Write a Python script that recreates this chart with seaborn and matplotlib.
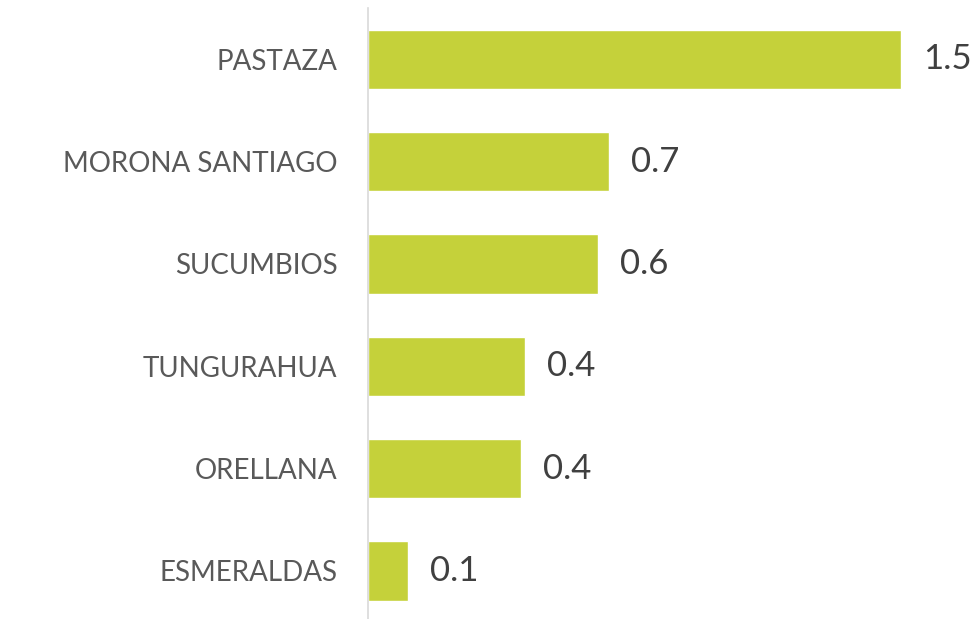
import seaborn as sns
import matplotlib.pyplot as plt
import pandas as pd

provinces = ["PASTAZA", "MORONA SANTIAGO", "SUCUMBIOS", "TUNGURAHUA", "ORELLANA", "ESMERALDAS"]
values = [1.46, 0.66, 0.63, 0.43, 0.42, 0.11]

df = pd.DataFrame({"province": provinces, "value": values})

sns.set_style("white")
plt.rcParams['font.family'] = ['Lato', 'DejaVu Sans']

fig = plt.figure(figsize=(9.74, 6.19), dpi=100)
ax = fig.add_axes([0.378, -0.005, 0.622, 0.992])

sns.barplot(data=df, x="value", y="province", color="#C5D13A", saturation=1,
            width=0.58, ax=ax)

for i, v in enumerate(values):
    ax.text(v + 0.06, i, f"{v:.1f}", va="center", ha="left",
            fontsize=25, color="#404040")

ax.set_xlim(0, 1.66)
ax.set_xlabel("")
ax.set_ylabel("")
ax.set_xticks([])
ax.tick_params(axis="y", length=0, pad=22, labelsize=20, labelcolor="#595959")
for s in ["top", "right", "bottom"]:
    ax.spines[s].set_visible(False)
ax.spines["left"].set_color("#D9D9D9")
ax.spines["left"].set_linewidth(1.2)

plt.savefig("out.png", dpi=100)
